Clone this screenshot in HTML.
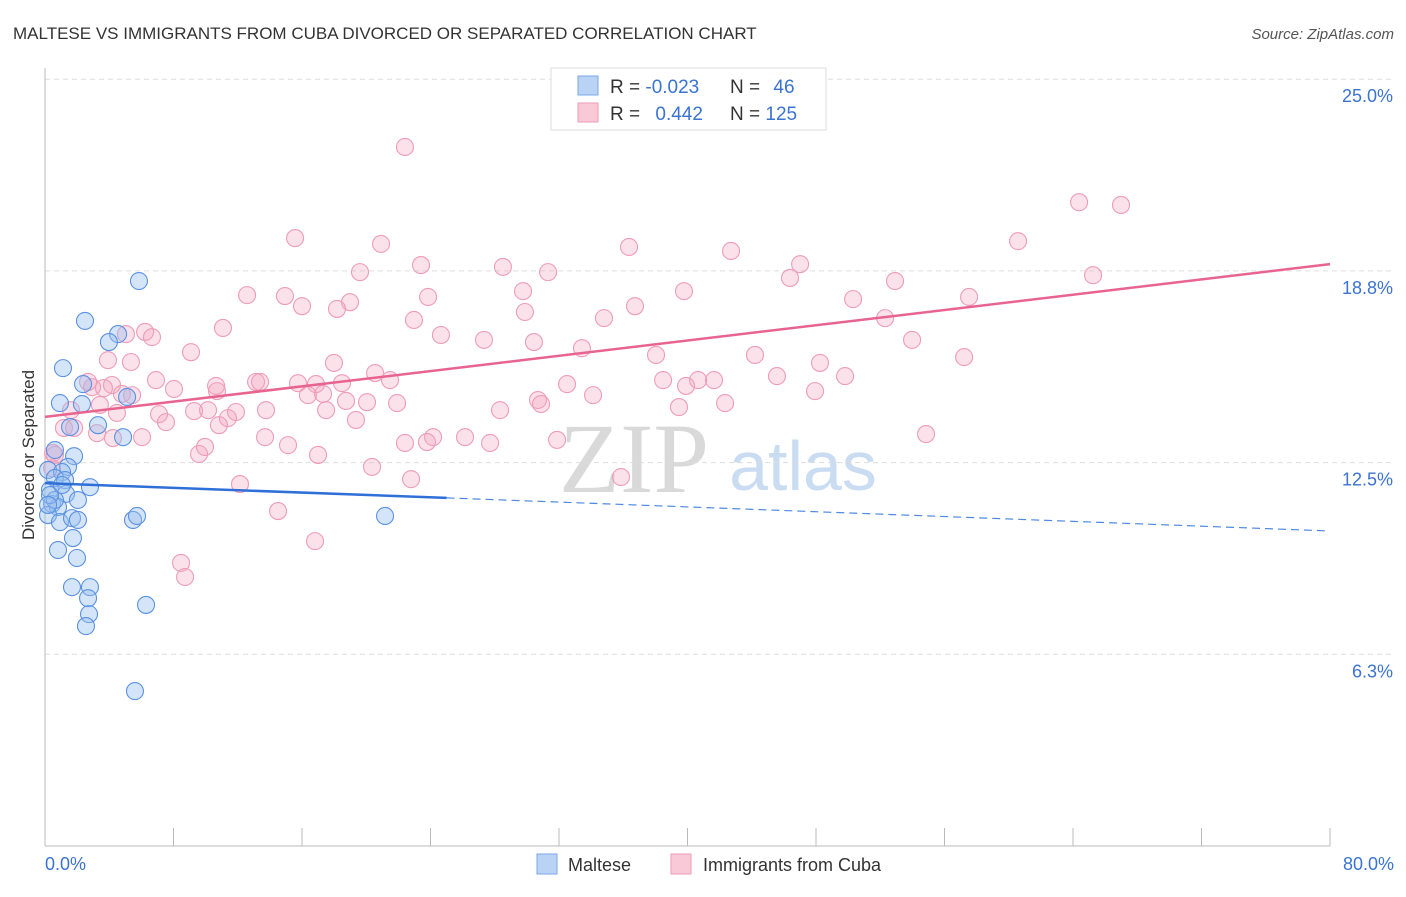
<!DOCTYPE html>
<html><head><meta charset="utf-8"><style>
body{margin:0;background:#fff;font-family:"Liberation Sans",sans-serif;}
</style></head><body>
<svg id="chart" width="1406" height="892" style="font-family:'Liberation Sans',sans-serif">
<text x="13" y="39" font-size="17" fill="#333">MALTESE VS IMMIGRANTS FROM CUBA DIVORCED OR SEPARATED CORRELATION CHART</text>
<text x="1394" y="39" font-size="15" fill="#555" text-anchor="end" font-style="italic">Source: ZipAtlas.com</text>
<text x="634" y="492" font-size="100" fill="#d9d9d9" text-anchor="middle" style="font-family:'Liberation Serif',serif">ZIP</text>
<text x="803" y="490" font-size="70" fill="#c9dcf2" text-anchor="middle">atlas</text>
<g id="grid"></g>
<g id="axes"></g>
<g id="pts"></g>
<g id="lines"></g>
<text transform="translate(34,455) rotate(-90)" font-size="17" fill="#333" text-anchor="middle">Divorced or Separated</text>
<text x="45" y="870" font-size="18" fill="#3b73d1">0.0%</text>
<text x="1394" y="870" font-size="18" fill="#3b73d1" text-anchor="end">80.0%</text>
<g>
<rect x="551" y="68" width="275" height="62" fill="#fff" stroke="#ddd"/>
<rect x="578" y="76" width="20" height="19" fill="#b9d3f5" stroke="#7aa7e6"/>
<rect x="578" y="103" width="20" height="19" fill="#f9c9d8" stroke="#ee9ab6"/>
<text x="610" y="93" font-size="19" fill="#333">R = <tspan fill="#3b73d1">-0.023</tspan></text>
<text x="730" y="93" font-size="19" fill="#333">N = <tspan fill="#3b73d1" dx="8">46</tspan></text>
<text x="610" y="120" font-size="19" fill="#333">R = <tspan fill="#3b73d1" dx="10">0.442</tspan></text>
<text x="730" y="120" font-size="19" fill="#333">N = <tspan fill="#3b73d1">125</tspan></text>
</g>
<g>
<rect x="537" y="854" width="20" height="20" fill="#b9d3f5" stroke="#7aa7e6"/>
<text x="568" y="871" font-size="18" fill="#333">Maltese</text></g>
<g>
<rect x="671" y="854" width="20" height="20" fill="#f9c9d8" stroke="#ee9ab6"/>
<text x="703" y="871" font-size="18" fill="#333">Immigrants from Cuba</text></g>
</svg>
<script>
const yTicks=[6.25,12.5,18.75,25];
const yTickLabels=["6.3%","12.5%","18.8%","25.0%"];
const xTicks=[0,8,16,24,32,40,48,56,64,72,80];
const blueX=[5.85,2.49,4.55,3.98,1.12,5.11,0.93,2.30,2.37,1.56,3.30,4.86,0.62,1.81,1.43,0.19,1.06,0.62,1.25,2.80,0.31,1.31,2.05,0.44,0.81,0.19,0.93,1.68,2.05,5.48,5.73,21.17,1.74,0.81,1.99,1.68,2.80,2.68,2.74,2.55,6.29,5.60,0.62,0.31,1.06,0.19];
const blueY=[18.42,17.12,16.69,16.43,15.58,14.64,14.44,14.41,15.06,13.66,13.72,13.33,12.91,12.71,12.36,12.26,12.19,12.00,11.93,11.70,11.61,11.48,11.28,11.15,11.05,10.79,10.56,10.69,10.63,10.63,10.76,10.76,10.04,9.65,9.39,8.44,8.44,8.08,7.56,7.17,7.86,5.05,11.28,11.44,11.77,11.12];
const pinkX=[22.41,64.38,66.99,15.57,60.58,36.36,20.92,42.71,23.41,28.51,19.61,31.32,47.01,65.25,52.92,46.38,12.58,14.94,29.76,39.78,23.85,18.99,16.00,18.18,36.73,57.53,50.31,29.88,22.97,34.80,52.30,11.08,6.23,5.04,6.66,24.65,27.33,30.44,53.98,3.92,9.09,33.43,38.04,44.20,57.22,5.35,17.99,48.25,20.55,21.48,6.91,13.14,13.39,15.75,32.50,38.48,41.65,45.57,49.81,2.93,4.17,3.67,8.03,10.65,16.87,18.49,40.66,39.91,4.79,5.42,16.37,17.31,34.12,47.94,10.71,18.74,20.05,21.92,30.69,30.88,42.34,1.62,3.42,7.10,9.28,10.15,11.89,13.76,17.50,28.33,39.47,4.48,7.53,10.83,11.39,19.36,1.18,1.81,3.24,4.23,6.04,13.70,15.13,24.16,26.15,27.71,31.88,22.41,23.78,9.59,9.96,17.00,54.85,0.50,0.44,20.36,12.14,22.79,35.86,14.51,16.81,8.47,8.72,2.68,0.62];
const pinkY=[22.79,20.99,20.90,19.82,19.72,19.53,19.63,19.40,18.94,18.88,18.71,18.71,18.97,18.61,18.42,18.52,17.96,17.93,18.09,18.09,17.90,17.73,17.60,17.51,17.60,17.90,17.83,17.41,17.15,17.21,17.21,16.89,16.76,16.69,16.59,16.66,16.50,16.43,16.50,15.84,16.10,16.23,16.01,16.01,15.94,15.78,15.75,15.75,15.42,15.19,15.19,15.13,15.13,15.09,15.06,15.19,15.19,15.32,15.32,14.96,15.03,14.93,14.90,15.00,15.06,15.09,15.19,15.00,14.74,14.70,14.70,14.74,14.70,14.83,14.83,14.51,14.47,14.44,14.54,14.41,14.44,14.21,14.38,14.08,14.18,14.21,14.15,14.21,14.21,14.21,14.31,14.12,13.82,13.72,13.95,13.89,13.63,13.63,13.46,13.30,13.33,13.33,13.07,13.33,13.33,13.14,13.24,13.14,13.17,12.78,13.01,12.75,13.43,12.81,12.32,12.36,11.80,11.96,12.03,10.92,9.94,9.23,8.77,15.13,12.75];
const pinkTrendX=[0,80];
const pinkTrendY=[13.99,18.97];
const blueTrendX=[0,25,80];
const blueTrendY=[11.83,11.35,10.27];

const NS="http://www.w3.org/2000/svg";
const X0=45,X1=1330,YB=846,YPER=191.7/6.25;
function xs(v){return X0+(v/80)*(X1-X0);}
function ys(v){return YB-v*YPER;}
function mk(tag,attrs,parent){const e=document.createElementNS(NS,tag);for(const k in attrs)e.setAttribute(k,attrs[k]);parent.appendChild(e);return e;}
const grid=document.getElementById('grid'),axes=document.getElementById('axes'),pts=document.getElementById('pts'),lines=document.getElementById('lines');
yTicks.forEach((t,i)=>{
 const l=mk('line',{x1:X0,x2:1394,y1:ys(t),y2:ys(t),stroke:'#ddd','stroke-dasharray':'5,4'},grid);
 
 
 const tx=mk('text',{x:1393,y:ys(t)+23,'font-size':18,fill:'#3b73d1','text-anchor':'end'},grid);
 tx.textContent=yTickLabels[i];
 
 
});
const ya=mk('line',{x1:X0,x2:X0,y1:68,y2:YB,stroke:'#bbb'},axes);


const xa=mk('line',{x1:X0,x2:X1,y1:YB,y2:YB,stroke:'#bbb'},axes);


xTicks.forEach(t=>{
 const l=mk('line',{x1:xs(t),x2:xs(t),y1:YB-18,y2:YB,stroke:'#bbb'},axes);
 
 
});
pinkX.forEach((v,i)=>{
 const c=mk('circle',{cx:xs(v),cy:ys(pinkY[i]),r:8.5,fill:'rgba(244,165,192,0.33)',stroke:'#ee9cb8','stroke-width':1.1},pts);
 
 
});
blueX.forEach((v,i)=>{
 const c=mk('circle',{cx:xs(v),cy:ys(blueY[i]),r:8.5,fill:'rgba(150,190,240,0.4)',stroke:'#5a92e2','stroke-width':1.1},pts);
 
 
});
const pl=mk('line',{x1:xs(pinkTrendX[0]),y1:ys(pinkTrendY[0]),x2:xs(pinkTrendX[1]),y2:ys(pinkTrendY[1]),stroke:'#e8648f','stroke-width':2.5},lines);


const bl=mk('line',{x1:xs(blueTrendX[0]),y1:ys(blueTrendY[0]),x2:xs(blueTrendX[1]),y2:ys(blueTrendY[1]),stroke:'#2f6fd8','stroke-width':2.5},lines);


const bd=mk('line',{x1:xs(blueTrendX[1]),y1:ys(blueTrendY[1]),x2:xs(blueTrendX[2]),y2:ys(blueTrendY[2]),stroke:'#4f8ae0','stroke-width':1.2,'stroke-dasharray':'8,5'},lines);


</script>
</body></html>
